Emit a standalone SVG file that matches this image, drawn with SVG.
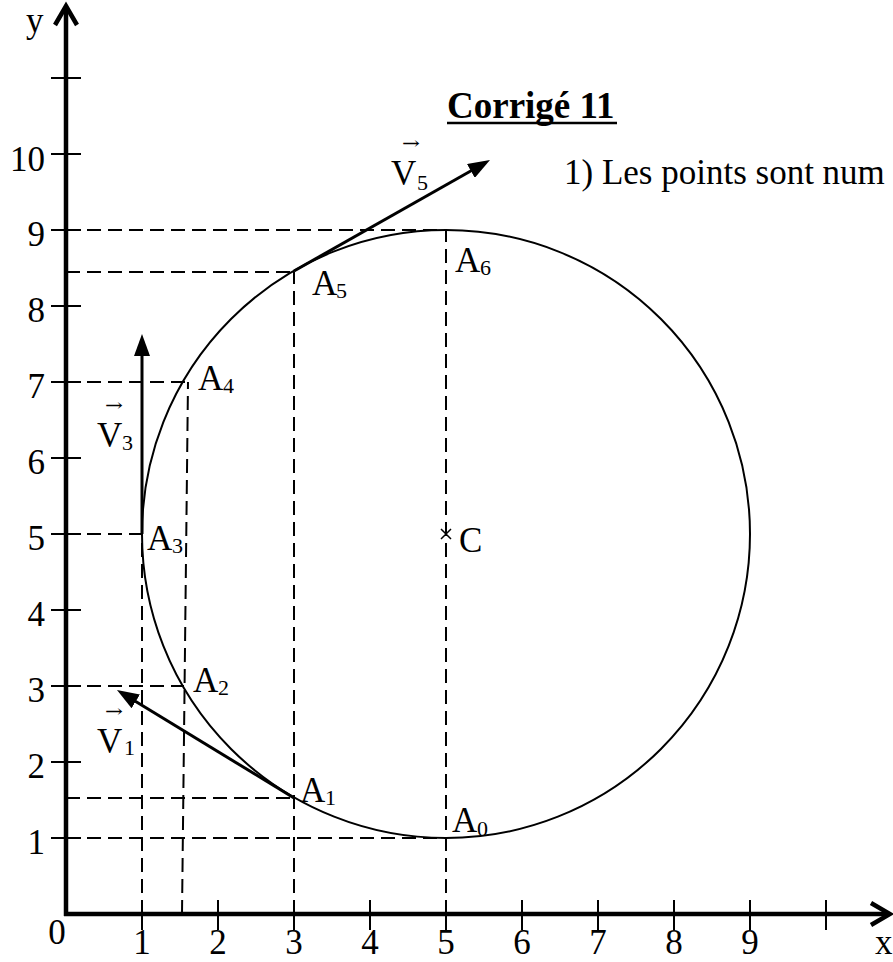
<svg xmlns="http://www.w3.org/2000/svg" width="893" height="962" viewBox="0 0 893 962">
<style>
  text { font-family: "Liberation Serif", "Times New Roman", serif; fill: #000; }
  .lbl { font-size: 35px; }
  .sub { font-size: 22px; }
  .vec { font-size: 17px; font-family: "DejaVu Serif", "Liberation Serif", serif; }
  .axis { stroke: #000; stroke-width: 4.5; fill: none; }
  .tick { stroke: #000; stroke-width: 2; }
  .dash { stroke: #000; stroke-width: 2; stroke-dasharray: 14 7; fill: none; }
  .circ { stroke: #000; stroke-width: 2; fill: none; }
  .v { stroke: #000; stroke-width: 3; fill: none; }
</style>
<defs>
  <marker id="ah" markerUnits="userSpaceOnUse" markerWidth="22" markerHeight="16" refX="12" refY="8" orient="auto">
    <path d="M0,0 L22,8 L0,16 z" fill="#000"/>
  </marker>
</defs>
<rect width="893" height="962" fill="#fff"/>

<g id="axes">
  <line class="axis" x1="66" y1="916" x2="66" y2="7"/>
  <polyline class="axis" points="55,25 66,6 77,25"/>
  <line class="axis" x1="64" y1="914" x2="889" y2="914"/>
  <polyline class="axis" points="871,903 890,914 871,925"/>
  <g class="tick">
    <line x1="51" y1="838" x2="81" y2="838"/>
    <line x1="51" y1="762" x2="81" y2="762"/>
    <line x1="51" y1="686" x2="81" y2="686"/>
    <line x1="51" y1="610" x2="81" y2="610"/>
    <line x1="51" y1="534" x2="81" y2="534"/>
    <line x1="51" y1="458" x2="81" y2="458"/>
    <line x1="51" y1="382" x2="81" y2="382"/>
    <line x1="51" y1="306" x2="81" y2="306"/>
    <line x1="51" y1="230" x2="81" y2="230"/>
    <line x1="51" y1="154" x2="81" y2="154"/>
    <line x1="51" y1="78" x2="81" y2="78"/>
    <line x1="142" y1="900" x2="142" y2="930"/>
    <line x1="218" y1="900" x2="218" y2="930"/>
    <line x1="294" y1="900" x2="294" y2="930"/>
    <line x1="370" y1="900" x2="370" y2="930"/>
    <line x1="446" y1="900" x2="446" y2="930"/>
    <line x1="522" y1="900" x2="522" y2="930"/>
    <line x1="598" y1="900" x2="598" y2="930"/>
    <line x1="674" y1="900" x2="674" y2="930"/>
    <line x1="750" y1="900" x2="750" y2="930"/>
    <line x1="826" y1="900" x2="826" y2="930"/>
  </g>
  <g class="lbl" text-anchor="end">
    <text x="45" y="854">1</text>
    <text x="45" y="778">2</text>
    <text x="45" y="702">3</text>
    <text x="45" y="626">4</text>
    <text x="45" y="550">5</text>
    <text x="45" y="474">6</text>
    <text x="45" y="398">7</text>
    <text x="45" y="322">8</text>
    <text x="45" y="246">9</text>
    <text x="45" y="171">10</text>
  </g>
  <g class="lbl" text-anchor="middle">
    <text x="142" y="954">1</text>
    <text x="218" y="954">2</text>
    <text x="294" y="954">3</text>
    <text x="370" y="954">4</text>
    <text x="446" y="954">5</text>
    <text x="522" y="954">6</text>
    <text x="598" y="954">7</text>
    <text x="674" y="954">8</text>
    <text x="750" y="954">9</text>
    <text x="57" y="944">0</text>
  </g>
  <text class="lbl" x="26" y="32">y</text>
  <text class="lbl" x="875" y="954">x</text>
</g>

<g id="guides">
  <line class="dash" x1="66" y1="838" x2="446" y2="838"/>
  <line class="dash" x1="66" y1="230" x2="446" y2="230"/>
  <line class="dash" x1="446" y1="914" x2="446" y2="230"/>
  <line class="dash" x1="66" y1="798" x2="294" y2="798"/>
  <line class="dash" x1="66" y1="272" x2="294" y2="272"/>
  <line class="dash" x1="294" y1="914" x2="294" y2="272"/>
  <line class="dash" x1="66" y1="686" x2="184" y2="686"/>
  <line class="dash" x1="66" y1="382" x2="188" y2="382"/>
  <line class="dash" x1="182" y1="914" x2="188" y2="382"/>
  <line class="dash" x1="66" y1="534" x2="142" y2="534"/>
  <line class="dash" x1="142" y1="914" x2="142" y2="534"/>
</g>

<g id="circle">
  <circle class="circ" cx="446" cy="534" r="304"/>
</g>

<g id="center-C">
  <path d="M441,529 L451,539 M451,529 L441,539" stroke="#000" stroke-width="1.5"/>
  <text class="lbl" x="459" y="552">C</text>
</g>

<g id="connectors">
  <line class="v" x1="294" y1="798" x2="125.5" y2="695.2" marker-end="url(#ah)"/>
  <line class="v" x1="142" y1="534" x2="142" y2="344" marker-end="url(#ah)"/>
  <line class="v" x1="294" y1="271" x2="481.3" y2="165" marker-end="url(#ah)"/>
</g>

<g id="A0"><text class="lbl" x="452" y="832">A</text><text class="sub" x="477" y="836">0</text></g>
<g id="A1"><text class="lbl" x="300" y="802">A</text><text class="sub" x="325" y="805">1</text></g>
<g id="A2"><text class="lbl" x="193" y="692">A</text><text class="sub" x="218" y="695">2</text></g>
<g id="A3"><text class="lbl" x="147" y="550">A</text><text class="sub" x="172" y="553">3</text></g>
<g id="A4"><text class="lbl" x="198" y="390">A</text><text class="sub" x="223" y="393">4</text></g>
<g id="A5"><text class="lbl" x="312" y="295">A</text><text class="sub" x="336" y="298">5</text></g>
<g id="A6"><text class="lbl" x="455" y="272">A</text><text class="sub" x="480" y="275">6</text></g>

<g id="V1">
  <text class="vec" x="105" y="717" textLength="18" lengthAdjust="spacingAndGlyphs">→</text>
  <text class="lbl" x="97" y="753">V</text><text class="sub" x="124" y="755">1</text>
</g>
<g id="V3">
  <text class="vec" x="105" y="411" textLength="18" lengthAdjust="spacingAndGlyphs">→</text>
  <text class="lbl" x="97" y="447">V</text><text class="sub" x="122" y="450">3</text>
</g>
<g id="V5">
  <text class="vec" x="402" y="149" textLength="18" lengthAdjust="spacingAndGlyphs">→</text>
  <text class="lbl" x="391" y="185">V</text><text class="sub" x="417" y="190">5</text>
</g>

<g id="title">
  <text x="447" y="118" font-size="37" font-weight="bold">Corrigé 11</text>
  <line x1="447" y1="123" x2="617" y2="123" stroke="#000" stroke-width="2.5"/>
</g>
<g id="note">
  <text class="lbl" x="564" y="184">1) Les points sont num</text>
</g>
</svg>
